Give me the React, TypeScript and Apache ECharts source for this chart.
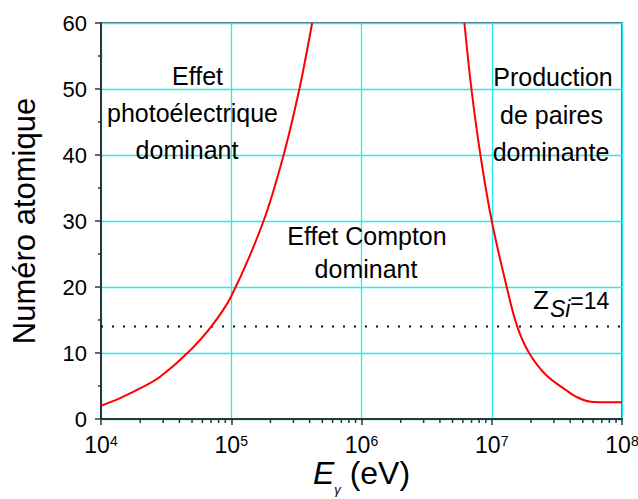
import React, { useEffect, useRef } from "react";
import * as echarts from "echarts";

// Tick values
const xMin = 1e4;
const xMax = 1e8;
const yTicks = [0, 10, 20, 30, 40, 50, 60];
const xMinorTicks = [
  2e4, 3e4, 4e4, 5e4, 6e4, 7e4, 8e4, 9e4,
  2e5, 3e5, 4e5, 5e5, 6e5, 7e5, 8e5, 9e5,
  2e6, 3e6, 4e6, 5e6, 6e6, 7e6, 8e6, 9e6,
  2e7, 3e7, 4e7, 5e7, 6e7, 7e7, 8e7, 9e7,
];

// Boundary photoelectric / Compton
const photoComptonE = [1e4, 14125, 21184, 28445, 46132, 70146, 1e5, 177011, 252348, 333426, 417830];
const photoComptonZ = [2.0, 3.2, 4.9, 6.4, 10, 14, 18.6, 30, 40, 50, 60];

// Boundary Compton / pair production
const comptonPairE = [6.166e6, 6.982e6, 8.185e6, 1e7, 1.303e7, 1.57e7, 1.936e7, 2.6e7, 3.707e7, 4.426e7, 5.781e7, 7.079e7, 1e8];
const comptonPairZ = [60, 50, 40, 30, 20, 14, 10, 6.7, 4.4, 3.4, 2.6, 2.55, 2.55];

// Silicon reference line
const zSi = 14;
const zSiE = [1e4, 1e8];

const FONT = '"Liberation Sans", Arial, Helvetica, sans-serif';

export default function App() {
  const ref = useRef<HTMLDivElement>(null);
  useEffect(() => {
    if (!ref.current) return;
    const chart = echarts.init(ref.current, undefined, { renderer: "svg" });
    const cyan = "#22EEEE";
    const axisColor = "#333";
    const option: any = {
      animation: false,
      backgroundColor: "#fff",
      textStyle: { fontFamily: FONT },
      grid: {
        left: 101,
        right: 16,
        top: 23,
        bottom: 80,
        containLabel: false,
        outerBoundsMode: "none",
        show: true,
        borderColor: axisColor,
        borderWidth: 1.5,
        backgroundColor: "transparent",
      },
      xAxis: {
        type: "log",
        logBase: 10,
        min: xMin,
        max: xMax,
        splitNumber: 4,
        axisLine: { show: true, lineStyle: { color: axisColor, width: 2 } },
        axisTick: { show: true, length: 6, lineStyle: { color: axisColor, width: 1.5 } },
        splitLine: { show: true, lineStyle: { color: cyan, width: 1.3, opacity: 1 } },
        axisLabel: {
          margin: 13,
          color: "#000",
          hideOverlap: false,
          formatter: (v: number) => `{b|10}{s|${Math.round(Math.log10(v))}}`,
          rich: {
            b: { fontSize: 23, fontFamily: FONT, color: "#000", lineHeight: 24, verticalAlign: "bottom" },
            s: { fontSize: 14, fontFamily: FONT, color: "#000", verticalAlign: "top", padding: [2, 0, 0, 0] },
          },
        },
        name: "{e|E}{g|γ}{t| (eV)}",
        nameLocation: "middle",
        nameGap: 38,
        nameMoveOverlap: false,
        nameTextStyle: {
          rich: {
            e: { fontSize: 32, fontStyle: "italic", fontFamily: FONT, color: "#000", lineHeight: 32, verticalAlign: "top" },
            g: { fontSize: 13, fontStyle: "italic", fontFamily: FONT, color: "#000", lineHeight: 39, verticalAlign: "bottom" },
            t: { fontSize: 32, fontFamily: FONT, color: "#000", lineHeight: 32, verticalAlign: "top" },
          },
        },
      },
      yAxis: {
        type: "value",
        min: yTicks[0],
        max: yTicks[yTicks.length - 1],
        interval: 10,
        axisLine: { show: true, lineStyle: { color: axisColor, width: 2 } },
        axisTick: { show: true, length: 6, lineStyle: { color: axisColor, width: 1.5 } },
        minorTick: { show: true, splitNumber: 2, length: 3, lineStyle: { color: axisColor, width: 1.5 } },
        splitLine: { show: true, lineStyle: { color: cyan, width: 1.3, opacity: 1 } },
        axisLabel: { margin: 14, fontSize: 22, color: "#000", fontFamily: FONT },
        name: "Numéro atomique",
        nameLocation: "middle",
        nameGap: 61,
        nameMoveOverlap: false,
        nameTextStyle: { fontSize: 31, color: "#000", fontFamily: FONT },
      },
      series: [
        {
          type: "line",
          data: photoComptonE.map((e, i) => [e, photoComptonZ[i]]),
          showSymbol: false,
          smooth: 0.35,
          lineStyle: { color: "#ff0000", width: 2 },
          itemStyle: { color: "#ff0000" },
          z: 5,
        },
        {
          type: "line",
          data: comptonPairE.map((e, i) => [e, comptonPairZ[i]]),
          showSymbol: false,
          smooth: 0.35,
          lineStyle: { color: "#ff0000", width: 2 },
          itemStyle: { color: "#ff0000" },
          z: 5,
        },
        {
          type: "line",
          data: zSiE.map((e) => [e, zSi]),
          showSymbol: false,
          lineStyle: { color: "#111", width: 2, type: [2, 9] },
        },
        {
          type: "custom",
          clip: false,
          silent: true,
          data: xMinorTicks.map((e) => [e, 0]),
          encode: { x: 0, y: 1 },
          renderItem: (params: any, api: any) => {
            const p = api.coord([api.value(0), 0]);
            return {
              type: "line",
              shape: { x1: p[0], y1: p[1], x2: p[0], y2: p[1] + 4 },
              style: { stroke: axisColor, lineWidth: 1.5 },
            };
          },
        },
      ],
    };
    chart.setOption(option);

    const t = (text: string, x: number, y: number) => ({
      type: "text",
      x,
      y,
      silent: true,
      style: {
        text,
        fontSize: 25,
        fontFamily: FONT,
        fill: "#000",
        align: "center",
        verticalAlign: "middle",
      },
    });
    chart.setOption({
      graphic: [
        t("Effet", 197.5, 76),
        t("photoélectrique", 192.5, 113),
        t("dominant", 187, 150),
        t("Production", 553, 77),
        t("de paires", 551.5, 115),
        t("dominante", 551, 151.5),
        t("Effet Compton", 367, 235.5),
        t("dominant", 366, 269),
        {
          type: "text",
          x: 533,
          y: 287,
          silent: true,
          style: {
            text: "{z|Z}{s|Si}{n|=14}",
            align: "left",
            verticalAlign: "top",
            rich: {
              z: { fontSize: 26, fontFamily: FONT, color: "#000", lineHeight: 26, verticalAlign: "top", padding: [0, 1, 0, 0] },
              s: { fontSize: 23, fontStyle: "italic", fontFamily: FONT, color: "#000", lineHeight: 33, verticalAlign: "bottom" },
              n: { fontSize: 23, fontFamily: FONT, color: "#000", lineHeight: 26, verticalAlign: "top", padding: [2, 0, 0, 0] },
            },
          },
        },
      ],
    });
    return () => chart.dispose();
  }, []);
  return (
    <div
      ref={ref}
      style={{ position: "absolute", left: 0, top: 0, width: 638, height: 499 }}
    />
  );
}
